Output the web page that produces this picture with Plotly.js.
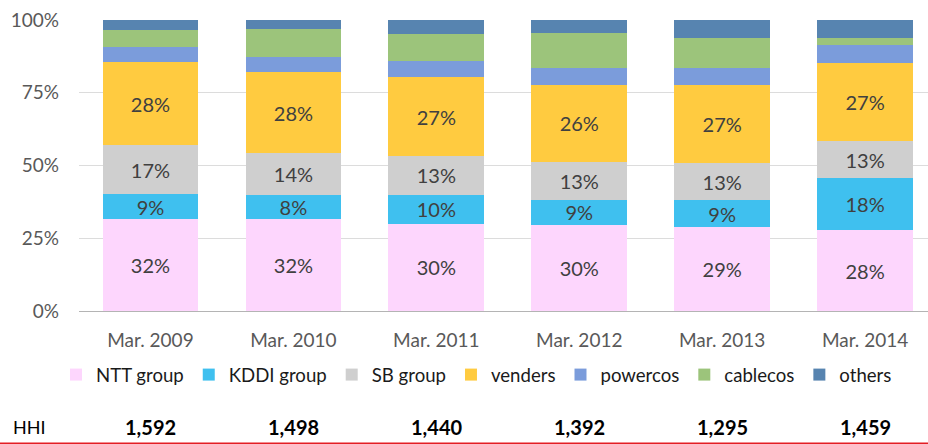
<!DOCTYPE html>
<html>
<head>
<meta charset="utf-8">
<script src="https://cdn.plot.ly/plotly-3.0.1.min.js"></script>
<style>html,body{margin:0;padding:0;background:#fff}#chart{width:928px;height:444px}</style>
</head>
<body>
<div id="chart"></div>
<script>
// ---- data (percent share) ----
const categories = ["Mar. 2009", "Mar. 2010", "Mar. 2011", "Mar. 2012", "Mar. 2013", "Mar. 2014"];
const nttGroup  = [31.6, 31.6, 30.0, 29.7, 28.7, 27.8];
const kddiGroup = [8.6, 8.3, 10.0, 8.6, 9.3, 17.8];
const sbGroup   = [16.8, 14.3, 13.3, 13.0, 12.9, 12.8];
const venders   = [28.4, 28.0, 27.0, 26.4, 26.7, 26.9];
const powercos  = [5.2, 5.2, 5.6, 5.7, 6.0, 6.2];
const cablecos  = [6.0, 9.4, 9.3, 12.1, 10.2, 2.3];
const others    = [3.4, 3.2, 4.8, 4.5, 6.2, 6.2];
const hhi       = [1592, 1498, 1440, 1392, 1295, 1459];
const yTicks    = [0, 25, 50, 75, 100];

const seriesNames  = ["NTT group", "KDDI group", "SB group", "venders", "powercos", "cablecos", "others"];
const seriesValues = [nttGroup, kddiGroup, sbGroup, venders, powercos, cablecos, others];
const seriesColors = ["#FDD6FD", "#3FC0EF", "#CFCFCF", "#FFCB40", "#7B9CDB", "#9CC47B", "#5784B0"];
const labelled     = [true, true, true, true, false, false, false];

const FONT = "Lato, 'Open Sans', sans-serif";

const traces = seriesNames.map((name, i) => ({
  type: "bar",
  name: name,
  x: categories,
  y: seriesValues[i],
  marker: {color: seriesColors[i], line: {width: 0}},
  texttemplate: labelled[i] ? "%{y:.0f}%" : "",
  textposition: labelled[i] ? "inside" : "none",
  insidetextanchor: "middle",
  textangle: 0,
  textfont: {family: FONT, size: 20, color: "#404040"},
  hoverinfo: "skip"
}));

const plotTop = 20, plotBottom = 311, plotLeft = 79, W = 928, H = 444;
const plotH = plotBottom - plotTop, plotW = W - plotLeft;
const py = (pix) => (plotBottom - pix) / plotH;   // pixel row -> paper y
const px = (pix) => (pix - plotLeft) / plotW;     // pixel col -> paper x

const annotations = hhi.map((v, i) => ({
  xref: "x", yref: "paper",
  x: categories[i], y: py(427),
  text: "<b>" + v.toLocaleString("en-US") + "</b>",
  showarrow: false, xanchor: "center", yanchor: "middle",
  font: {family: FONT, size: 20, color: "#000000"}
}));
annotations.push({
  xref: "paper", yref: "paper", x: px(11), y: py(427),
  text: "HHI", showarrow: false, xanchor: "left", yanchor: "middle",
  font: {family: FONT, size: 18, color: "#000000"}
});

const layout = {
  width: W, height: H,
  margin: {l: plotLeft, r: 0, t: plotTop, b: H - plotBottom, pad: 0},
  paper_bgcolor: "#ffffff", plot_bgcolor: "#ffffff",
  barmode: "stack",
  bargap: 0.33,
  showlegend: true,
  legend: {
    orientation: "h",
    xref: "container", yref: "container",
    x: 56 / W, xanchor: "left",
    y: 1 - 375 / H, yanchor: "middle",
    traceorder: "normal",
    font: {family: FONT, size: 18.6, color: "#1a1a1a"},
    itemwidth: 30,
    bgcolor: "rgba(0,0,0,0)"
  },
  xaxis: {
    type: "category",
    range: [-0.5, 5.44],
    showgrid: false,
    showline: true, linecolor: "#B4B4B4", linewidth: 1,
    ticks: "", ticklabelstandoff: 12,
    tickfont: {family: FONT, size: 19, color: "#595959"},
    fixedrange: true
  },
  yaxis: {
    range: [0, 100],
    tickvals: yTicks,
    ticktext: yTicks.map(v => v + "%"),
    showgrid: true, gridcolor: "#DCDCDC", gridwidth: 1,
    zeroline: false, showline: false,
    ticks: "", ticklabelstandoff: 19,
    tickfont: {family: FONT, size: 19, color: "#595959"},
    fixedrange: true
  },
  annotations: annotations,
  shapes: [{
    type: "line", xref: "paper", yref: "paper",
    x0: px(0), x1: px(W), y0: py(443.3), y1: py(443.3),
    line: {color: "#E31E24", width: 1.5}
  }],
  uniformtext: {mode: "show", minsize: 20},
  font: {family: FONT}
};

Plotly.newPlot("chart", traces, layout, {displayModeBar: false, staticPlot: true});
</script>
</body>
</html>
